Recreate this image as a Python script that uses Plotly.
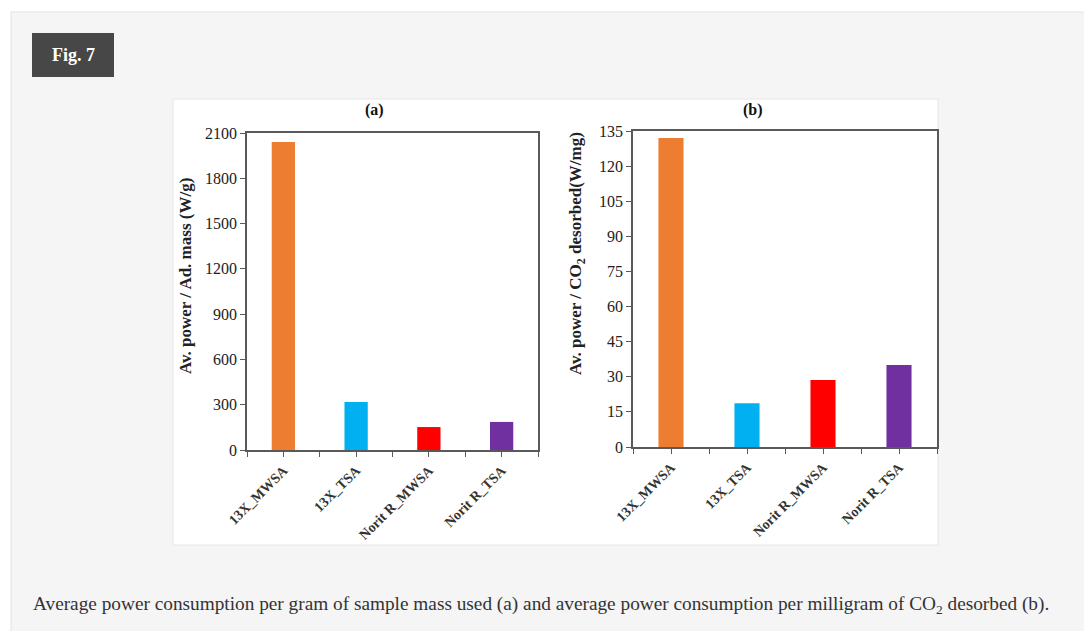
import plotly.graph_objects as go

W, H = 1084, 631

categories = ["13X_MWSA", "13X_TSA", "Norit R_MWSA", "Norit R_TSA"]
power_per_mass = [2040, 318, 152, 186]        # W/g, panel (a)
power_per_co2 = [132, 18.7, 28.6, 35]          # W/mg, panel (b)
bar_colors = ["#ED7D31", "#00B0F0", "#FF0000", "#7030A0"]
y_ticks_a = [0, 300, 600, 900, 1200, 1500, 1800, 2100]
y_ticks_b = [0, 15, 30, 45, 60, 75, 90, 105, 120, 135]

SERIF = "Liberation Serif"

def px_x(x):
    return x / W

def px_y(y):
    return 1 - y / H

xpos = list(range(len(categories)))
tickvals = []
ticktext = []
for i, c in enumerate(categories):
    tickvals += [i - 0.5, i]
    ticktext += [" ", "<b>" + c + "</b>"]
tickvals.append(len(categories) - 0.5)
ticktext.append(" ")

fig = go.Figure()
fig.add_trace(go.Bar(x=xpos, y=power_per_mass, marker=dict(color=bar_colors, line=dict(width=0)),
                     width=0.32, xaxis="x", yaxis="y", showlegend=False))
fig.add_trace(go.Bar(x=xpos, y=power_per_co2, marker=dict(color=bar_colors, line=dict(width=0)),
                     width=0.33, xaxis="x2", yaxis="y2", showlegend=False))

axis_color = "#595959"
xcommon = dict(range=[-0.5, len(categories) - 0.5], tickmode="array", tickvals=tickvals, ticktext=ticktext,
               tickangle=-45, ticks="outside", ticklen=5, tickcolor=axis_color, showline=True,
               linecolor=axis_color, linewidth=1.5, mirror=True, showgrid=False, zeroline=False,
               automargin=False, tickfont=dict(family=SERIF, size=14, color="#333"))
ycommon = dict(ticks="outside", ticklen=5, tickcolor=axis_color, showline=True, linecolor=axis_color,
               linewidth=1.5, mirror=True, showgrid=False, zeroline=False, automargin=False,
               tickfont=dict(family=SERIF, size=16, color="#222"))

fig.update_layout(
    width=W, height=H,
    margin=dict(l=0, r=0, t=0, b=0, pad=0, autoexpand=False),
    paper_bgcolor="white", plot_bgcolor="white",
    xaxis=dict(domain=[px_x(247), px_x(538)], anchor="y", **xcommon),
    yaxis=dict(domain=[px_y(450), px_y(133)], anchor="x", range=[0, 2100], tickmode="array",
               tickvals=y_ticks_a, **ycommon),
    xaxis2=dict(domain=[px_x(633), px_x(937)], anchor="y2", **xcommon),
    yaxis2=dict(domain=[px_y(447), px_y(131)], anchor="x2", range=[0, 135], tickmode="array",
                tickvals=y_ticks_b, **ycommon),
    bargap=0.68,
)

shapes = [
    # outer gray panel
    dict(type="rect", xref="paper", yref="paper", x0=px_x(11), x1=px_x(1095), y0=px_y(660), y1=px_y(12),
         fillcolor="#F5F5F5", line=dict(color="#E2E2E2", width=1), layer="below"),
    # white figure area
    dict(type="rect", xref="paper", yref="paper", x0=px_x(173), x1=px_x(938), y0=px_y(545), y1=px_y(99),
         fillcolor="white", line=dict(color="#E6E6E6", width=1), layer="below"),
    # Fig. 7 box
    dict(type="rect", xref="paper", yref="paper", x0=px_x(32), x1=px_x(114), y0=px_y(77), y1=px_y(33),
         fillcolor="#474747", line=dict(width=0), layer="below"),
]
fig.update_layout(shapes=shapes)

ann = [
    dict(text="<b>Fig. 7</b>", x=px_x(73), y=px_y(55), font=dict(family=SERIF, size=18, color="white")),
    dict(text="<b>(a)</b>", x=px_x(374), y=px_y(110), font=dict(family=SERIF, size=16, color="#111")),
    dict(text="<b>(b)</b>", x=px_x(753), y=px_y(110), font=dict(family=SERIF, size=16, color="#111")),
    dict(text="<b>Av. power / Ad. mass (W/g)</b>", x=px_x(185), y=px_y(276), textangle=-90,
         font=dict(family=SERIF, size=17, color="#222")),
    dict(text="<b>Av. power / CO<sub>2</sub> desorbed(W/mg)</b>", x=px_x(577), y=px_y(254), textangle=-90,
         font=dict(family=SERIF, size=17, color="#222")),
    dict(text="Average power consumption per gram of sample mass used (a) and average power consumption per milligram of CO<sub>2</sub> desorbed (b).",
         x=px_x(31), y=px_y(605), xanchor="left", font=dict(family=SERIF, size=19.3, color="#333")),
]
for a in ann:
    a.setdefault("xanchor", "center")
    a.update(xref="paper", yref="paper", yanchor="middle", showarrow=False)
fig.update_layout(annotations=ann)

fig.write_html("out.html")
